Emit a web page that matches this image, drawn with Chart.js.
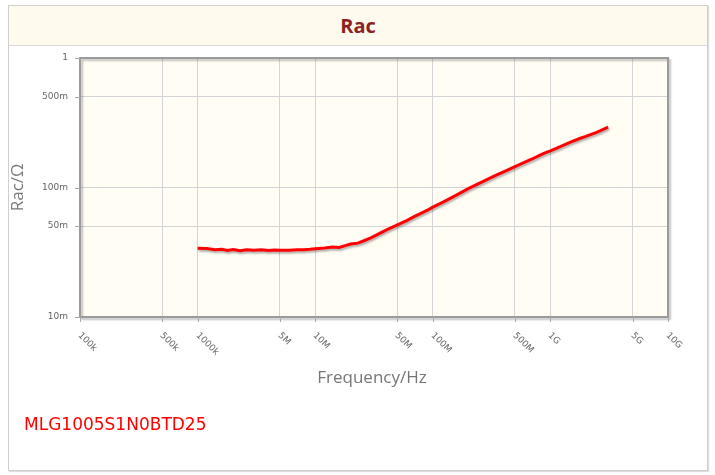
<!DOCTYPE html>
<html>
<head>
<meta charset="utf-8">
<script src="https://cdn.jsdelivr.net/npm/chart.js@4.4.0/dist/chart.umd.min.js"></script>
<style>
  html, body { margin: 0; padding: 0; background: #ffffff; }
  #wrap { position: relative; width: 715px; height: 475px; overflow: hidden; }
  #frame { position: absolute; left: 8px; top: 5px; width: 698px; height: 464px; border: 1px solid #cfcfcf; box-shadow: 1px 1px 1px #dddddd; background: #fff; }
  #titlebar { position: absolute; left: 0; top: 0; width: 698px; height: 39px; background: #fefaee; border-bottom: 1px solid #d8d8d8; text-align: center; font: bold 20px "Open Sans", sans-serif; color: #8b2222; line-height: 39px; }
  #c { position: absolute; left: 0; top: 0; }
  #part { position: absolute; left: 24px; top: 414px; font: 17px "DejaVu Sans", sans-serif; color: #ff0000; }
</style>
</head>
<body>
<div id="wrap">
  <div id="frame"><div id="titlebar">Rac</div></div>
  <canvas id="c" width="715" height="475"></canvas>
  <div id="part">MLG1005S1N0BTD25</div>
</div>
<script>
// ---- data ----
const freqs = [
  1e6, 1.2e6, 1.4e6, 1.6e6, 1.8e6, 2e6, 2.3e6, 2.6e6, 3e6, 3.5e6, 4e6, 4.5e6, 5e6, 6e6, 7e6, 8e6, 9e6,
  1e7, 1.2e7, 1.4e7, 1.6e7, 1.8e7, 2e7, 2.3e7, 2.6e7, 3e7, 3.5e7, 4e7, 5e7, 6e7, 7e7, 8e7, 9e7,
  1e8, 1.2e8, 1.5e8, 1.8e8, 2e8, 2.5e8, 3e8, 3.5e8, 4e8, 5e8, 6e8, 7e8, 8e8, 9e8,
  1e9, 1.2e9, 1.5e9, 1.8e9, 2e9, 2.5e9, 3.1e9
];
const racValues = [
  0.0340, 0.0338, 0.0330, 0.0334, 0.0326, 0.0332, 0.0325, 0.0331, 0.0327, 0.0330, 0.0326, 0.0329, 0.0327, 0.0328, 0.0330, 0.0331, 0.0333,
  0.0336, 0.0341, 0.0347, 0.0344, 0.0356, 0.0366, 0.0372, 0.0388, 0.0410, 0.0440, 0.0468, 0.0515, 0.0555, 0.0598, 0.0635, 0.0668,
  0.0705, 0.0765, 0.0850, 0.0930, 0.0980, 0.1080, 0.1170, 0.1250, 0.1320, 0.1450, 0.1560, 0.1660, 0.1760, 0.1850,
  0.1920, 0.2060, 0.2250, 0.2400, 0.2480, 0.2680, 0.2920
];
const xTickValues = [1e5, 5e5, 1e6, 5e6, 1e7, 5e7, 1e8, 5e8, 1e9, 5e9, 1e10];
const xTickLabels = ['100k', '500k', '1000k', '5M', '10M', '50M', '100M', '500M', '1G', '5G', '10G'];
const yTickValues = [0.01, 0.05, 0.1, 0.5, 1];
const yTickLabels = ['10m', '50m', '100m', '500m', '1'];

const points = freqs.map((f, i) => ({ x: f, y: racValues[i] }));

const decorPlugin = {
  id: 'decor',
  beforeDraw(chart) {
    const { ctx, chartArea: a } = chart;
    ctx.save();
    ctx.fillStyle = '#fffdf4';
    ctx.fillRect(a.left, a.top, a.right - a.left, a.bottom - a.top);
    ctx.restore();
  },
  afterDraw(chart) {
    const { ctx, chartArea: a, scales } = chart;
    const xs = scales.x, ys = scales.y;
    ctx.save();
    ctx.shadowColor = 'rgba(0,0,0,0.25)';
    ctx.shadowOffsetX = 2; ctx.shadowOffsetY = 2; ctx.shadowBlur = 2;
    ctx.strokeStyle = '#9a9a9a';
    ctx.lineWidth = 2;
    ctx.strokeRect(a.left, a.top, a.right - a.left, a.bottom - a.top);
    ctx.restore();

    ctx.save();
    ctx.strokeStyle = '#aaaaaa';
    ctx.lineWidth = 1;
    ctx.fillStyle = '#666666';
    ctx.font = '9px "DejaVu Sans", sans-serif';
    ctx.textAlign = 'right';
    ctx.textBaseline = 'middle';
    yTickValues.forEach((v, i) => {
      const y = Math.round(ys.getPixelForValue(v)) + 0.5;
      ctx.beginPath(); ctx.moveTo(a.left - 5, y); ctx.lineTo(a.left, y); ctx.stroke();
      ctx.fillText(yTickLabels[i], a.left - 12, y - 1);
    });
    ctx.font = '9px "DejaVu Sans", sans-serif';
    ctx.textAlign = 'left';
    ctx.textBaseline = 'middle';
    xTickValues.forEach((v, i) => {
      const x = Math.round(xs.getPixelForValue(v)) + 0.5;
      ctx.beginPath(); ctx.moveTo(x, a.bottom); ctx.lineTo(x, a.bottom + 5); ctx.stroke();
      ctx.save();
      ctx.translate(x - 1, a.bottom + 17);
      ctx.rotate(Math.PI / 4);
      ctx.fillText(xTickLabels[i], 0, 0);
      ctx.restore();
    });
    ctx.fillStyle = '#777777';
    ctx.font = '17px "Open Sans", sans-serif';
    ctx.textAlign = 'center';
    ctx.textBaseline = 'middle';
    ctx.fillText('Frequency/Hz', 372, 378);
    ctx.save();
    ctx.translate(18, (a.top + a.bottom) / 2);
    ctx.rotate(-Math.PI / 2);
    ctx.fillText('Rac/Ω', 0, 0);
    ctx.restore();
    ctx.restore();
  },
  beforeDatasetDraw(chart) {
    const ctx = chart.ctx;
    ctx.save();
    ctx.shadowColor = 'rgba(0,0,0,0.3)';
    ctx.shadowOffsetX = 1; ctx.shadowOffsetY = 2; ctx.shadowBlur = 2;
  },
  afterDatasetDraw(chart) {
    chart.ctx.restore();
  }
};

new Chart(document.getElementById('c'), {
  type: 'line',
  data: {
    datasets: [{
      data: points,
      borderColor: '#ff0000',
      borderWidth: 3,
      pointRadius: 0,
      tension: 0,
      fill: false
    }]
  },
  options: {
    responsive: false,
    animation: false,
    events: [],
    layout: { padding: { left: 80, top: 58, right: 47, bottom: 158 } },
    plugins: { legend: { display: false }, tooltip: { enabled: false } },
    scales: {
      x: {
        type: 'logarithmic',
        min: 1e5, max: 1e10,
        afterBuildTicks(s) { s.ticks = xTickValues.slice(1, -1).map(v => ({ value: v })); },
        ticks: { display: false },
        grid: { color: '#d4d4d4', drawTicks: false, lineWidth: 1 },
        border: { display: false }
      },
      y: {
        type: 'logarithmic',
        min: 0.01, max: 1,
        afterBuildTicks(s) { s.ticks = yTickValues.slice(1, -1).map(v => ({ value: v })); },
        ticks: { display: false },
        grid: { color: '#d4d4d4', drawTicks: false, lineWidth: 1 },
        border: { display: false }
      }
    }
  },
  plugins: [decorPlugin]
});
</script>
</body>
</html>
